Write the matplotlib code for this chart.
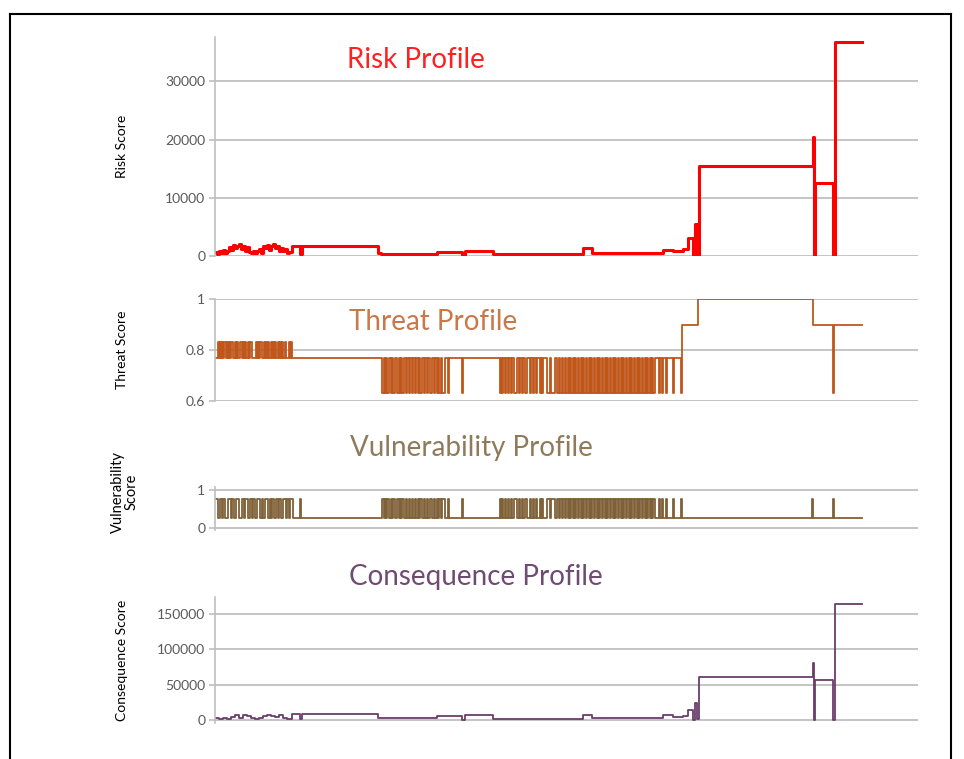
import matplotlib
matplotlib.use("Agg")
import matplotlib.pyplot as plt
from matplotlib.lines import Line2D

plt.rcParams['font.family'] = ['Lato', 'DejaVu Sans']

# x axis: sample index (0 .. 703), data runs to 647
X_MAX = 703

# ---- Risk score: step points (x, value) ----
risk_x = [0, 2, 4, 6, 8, 10, 12, 14, 16, 18, 20, 22, 24, 26, 28, 30, 32, 34, 36, 38,
          40, 42, 44, 46, 48, 50, 52, 54, 56, 58, 60, 62, 64, 66, 68, 70, 72, 74, 77,
          85, 87, 163, 166, 222, 247, 250, 253, 278, 368, 377, 448, 458, 468, 473, 478,
          480, 482, 484, 598, 599, 600, 618, 620, 647]
risk_y = [700, 300, 900, 500, 1100, 600, 800, 1500, 1000, 1900, 1300, 1800, 2000, 1200,
          1700, 900, 1500, 700, 600, 900, 500, 800, 1200, 600, 1800, 1300, 1900, 1100,
          1700, 2000, 1300, 1700, 800, 1400, 900, 1200, 500, 700, 1800, 400, 1800,
          600, 400, 700, 0, 900, 900, 350, 1300, 450, 1100, 850, 1200, 3100, 0, 5500,
          200, 15500, 20500, 0, 12600, 0, 36800, 36800]

# ---- Consequence score: step points ----
cons_x = [0, 4, 8, 12, 16, 20, 24, 28, 32, 36, 40, 44, 48, 52, 56, 60, 64, 68, 72,
          77, 85, 87, 163, 167, 222, 247, 250, 253, 278, 368, 377, 448, 458, 468, 473,
          478, 480, 482, 484, 598, 599, 600, 618, 620, 647]
cons_y = [2500, 1500, 3000, 2000, 4000, 6500, 3500, 7000, 5000, 2500, 2000, 3000, 6000,
          7500, 5500, 4000, 7000, 3000, 1500, 8500, 1000, 8500, 2400, 2400, 5000, 0,
          7000, 7000, 1000, 7000, 2400, 7000, 4000, 6000, 14000, 0, 24000, 1000, 61000,
          80700, 0, 56300, 0, 164300, 164300]

# ---- Threat score ----
threat_plateaus = [(0, 467, 0.77), (467, 483, 0.90), (483, 598, 1.0), (598, 647, 0.90)]
threat_high = [(3, 4), (5, 6), (7, 8), (9, 11), (12, 13), (14, 15), (16, 18), (20, 21),
               (22, 23), (25, 27), (28, 29), (30, 31), (33, 34), (35, 37), (41, 42),
               (43, 44), (45, 47), (49, 50), (51, 52), (53, 54), (56, 57), (58, 59),
               (60, 61), (63, 64), (65, 66), (67, 68), (70, 71), (74, 75), (76, 77)]
threat_low_extra = [(618, 619)]

# toggling section shared by threat (drops low) and vulnerability (jumps high)
mid_toggles = [(167, 169), (170, 171), (172, 174), (176, 177), (178, 180), (182, 184),
               (185, 186), (187, 189), (191, 192), (194, 195), (197, 198), (200, 201),
               (203, 204), (205, 207), (209, 210), (212, 213), (215, 217), (219, 220),
               (222, 223), (224, 226), (227, 230), (233, 234), (247, 248),
               (285, 286), (287, 288), (290, 291), (293, 294), (296, 297), (299, 302),
               (304, 305), (307, 308), (310, 312), (315, 316), (318, 319), (321, 322),
               (325, 326), (327, 328), (332, 335), (336, 340), (342, 344), (345, 347),
               (348, 350), (351, 353), (354, 355), (356, 358), (359, 360), (361, 363),
               (364, 366), (367, 368), (369, 371), (372, 374), (375, 376), (377, 379),
               (380, 382), (383, 384), (385, 387), (388, 390), (391, 392), (393, 395),
               (396, 398), (399, 400), (401, 403), (404, 406), (407, 408), (409, 411),
               (412, 414), (415, 416), (417, 419), (420, 422), (423, 424), (425, 427),
               (428, 430), (431, 432), (433, 435), (436, 437), (438, 440),
               (444, 445), (447, 448), (451, 452), (458, 459), (466, 467)]
threat_levels = {'high': 0.83, 'low': 0.63}

# ---- Vulnerability score ----
vuln_plateaus = [(0, 647, 0.25)]
vuln_high_early = [(0, 3), (5, 7), (8, 10), (13, 16), (17, 19), (21, 24), (27, 29),
                   (30, 33), (35, 37), (38, 40), (42, 45), (47, 48), (50, 53), (55, 56),
                   (57, 59), (61, 63), (64, 66), (68, 71), (72, 74), (75, 78), (85, 86)]
vuln_high_late = [(597, 598), (618, 619)]
vuln_level_high = 0.75


def build_steps(plateaus, pulses):
    # pulses: list of (start, end, level)
    pts = set()
    for a, b, v in plateaus:
        pts.update([a, b])
    for a, b, v in pulses:
        pts.update([a, b])
    pts = sorted(pts)
    vals = []
    for p in pts:
        val = None
        for a, b, v in pulses:
            if a <= p < b:
                val = v
        if val is None:
            for a, b, v in plateaus:
                if a <= p < b:
                    val = v
        if val is None:
            val = plateaus[-1][2]
        vals.append(val)
    return pts, vals


W, H = 964, 759
fig = plt.figure(figsize=(W / 100, H / 100), dpi=100)

GRID = '#BFBFBF'
TICK = '#595959'


def add_ax(top, bottom, left=215, right=918):
    ax = fig.add_axes([left / W, 1 - bottom / H, (right - left) / W, (bottom - top) / H])
    for s in ['top', 'right', 'bottom']:
        ax.spines[s].set_visible(False)
    ax.spines['left'].set_color(GRID)
    ax.spines['left'].set_linewidth(1.2)
    ax.set_xlim(0, X_MAX)
    ax.set_xticks([])
    ax.tick_params(axis='y', length=4, color=GRID, width=1.2, labelsize=10,
                   labelcolor=TICK, pad=3)
    ax.grid(axis='y', color=GRID, linewidth=1.3)
    ax.set_axisbelow(True)
    ax.patch.set_alpha(0)
    return ax


# Risk
ax1 = add_ax(37, 256)
ax1.step(risk_x, risk_y, where='post', color='#FF0000', linewidth=2.2)
ax1.set_ylim(0, 37600)
ax1.set_yticks([0, 10000, 20000, 30000])

# Threat
ax2 = add_ax(299, 401)
pulses = [(a, b, threat_levels['high']) for a, b in threat_high] + \
         [(a, b, threat_levels['low']) for a, b in mid_toggles + threat_low_extra]
tx, ty = build_steps(threat_plateaus, pulses)
ax2.step(tx, ty, where='post', color='#C0561A', linewidth=1.3)
ax2.set_ylim(0.6, 1.0)
ax2.set_yticks([0.6, 0.8, 1.0])
ax2.set_yticklabels(['0.6', '0.8', '1'])

# Vulnerability
ax3 = add_ax(487, 530)
vp = [(a, b, vuln_level_high) for a, b in vuln_high_early + mid_toggles + vuln_high_late]
vx, vy = build_steps(vuln_plateaus, vp)
ax3.step(vx, vy, where='post', color='#7F6138', linewidth=1.3)
ax3.set_ylim(-0.053, 1.079)
ax3.set_yticks([0, 1])

# Consequence
ax4 = add_ax(597, 723)
ax4.step(cons_x, cons_y, where='post', color='#6A3D6A', linewidth=1.3)
ax4.set_ylim(-4200, 173600)
ax4.set_yticks([0, 50000, 100000, 150000])


# titles and labels (figure pixel positions)
def ftext(x, y, s, **kw):
    fig.text(x / W, 1 - y / H, s, **kw)


ftext(416, 60, 'Risk Profile', color='#FF2020', fontsize=20, ha='center', va='center')
ftext(433, 322, 'Threat Profile', color='#C9784A', fontsize=20, ha='center', va='center')
ftext(471, 448, 'Vulnerability Profile', color='#8F7B5C', fontsize=20, ha='center',
      va='center')
ftext(476, 577, 'Consequence Profile', color='#6F4A72', fontsize=20, ha='center',
      va='center')

ftext(122, 146, 'Risk Score', rotation=90, fontsize=10, ha='center', va='center')
ftext(122, 350, 'Threat Score', rotation=90, fontsize=10, ha='center', va='center')
ftext(125, 492, 'Vulnerability\nScore', rotation=90, fontsize=10.5, ha='center',
      va='center', linespacing=1.0)
ftext(122, 660, 'Consequence Score', rotation=90, fontsize=10, ha='center', va='center')

# outer frame
fx0, fx1, fy0 = 10 / W, 951 / W, 1 - 14 / H
for xs, ys in [([fx0, fx0], [0, fy0]), ([fx1, fx1], [0, fy0]), ([fx0, fx1], [fy0, fy0])]:
    fig.add_artist(Line2D(xs, ys, color='black', linewidth=1.5))

fig.savefig('out.png', dpi=100)
